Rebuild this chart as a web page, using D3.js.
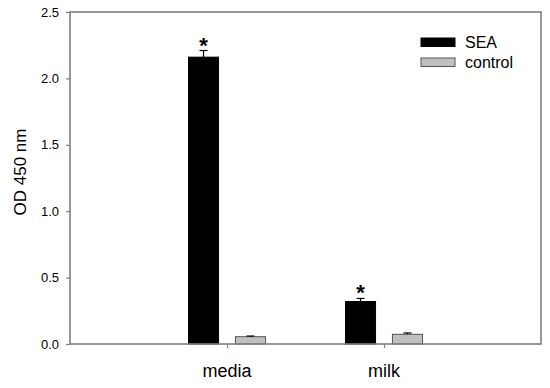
<!DOCTYPE html>
<html lang="en">
<head>
    <meta charset="UTF-8">
    <title>OD 450 nm: SEA vs control</title>
    <script src="https://d3js.org/d3.v7.min.js"></script>
    <style>
        body {
            margin: 0;
            background: white;
            font-family: Arial, "Liberation Sans", sans-serif;
        }
        .frame {
            fill: none;
            stroke: #7f7f7f;
            stroke-width: 1.6px;
        }
        .axis path {
            display: none;
        }
        .axis line {
            stroke: #7f7f7f;
            stroke-width: 1.2px;
        }
        .axis text {
            font-size: 13px;
            fill: black;
        }
        .cat-label {
            font-size: 18px;
            fill: black;
        }
        .legend text {
            font-size: 16px;
            fill: black;
        }
    </style>
</head>
<body>
    <svg width="550" height="388"></svg>
    <script>
        const categories = ["media", "milk"];
        const seriesNames = ["SEA", "control"];
        const seaValues = [2.16, 0.32];
        const seaErrors = [0.05, 0.023];
        const controlValues = [0.055, 0.073];
        const controlErrors = [0.005, 0.01];
        const significant = [true, true];
        const yTicks = [0, 0.5, 1.0, 1.5, 2.0, 2.5];

        const colors = { SEA: "#000000", control: "#c0c0c0" };
        const strokes = { SEA: "#000000", control: "#555555" };

        const svg = d3.select("svg"),
            margin = { top: 12, right: 9, bottom: 44, left: 70 },
            width = +svg.attr("width") - margin.left - margin.right,
            height = +svg.attr("height") - margin.top - margin.bottom;

        const g = svg.append("g")
            .attr("transform", `translate(${margin.left},${margin.top})`);

        const rows = [];
        categories.forEach((c, i) => {
            rows.push({ cat: c, series: "SEA", value: seaValues[i], err: seaErrors[i], star: significant[i] });
            rows.push({ cat: c, series: "control", value: controlValues[i], err: controlErrors[i], star: false });
        });

        const x = d3.scalePoint()
            .domain(categories)
            .range([0, width])
            .padding(1);

        const groupWidth = 77;
        const xSub = d3.scaleBand()
            .domain(seriesNames)
            .range([-groupWidth / 2, groupWidth / 2])
            .paddingInner(0.36);

        const y = d3.scaleLinear()
            .domain([0, 2.5])
            .range([height, 0]);

        // y axis ticks
        g.append("g")
            .attr("class", "axis")
            .call(d3.axisLeft(y)
                .tickValues(yTicks)
                .tickFormat(d3.format(".1f"))
                .tickSize(4)
                .tickPadding(7));

        // x axis ticks
        g.append("g")
            .attr("class", "axis")
            .attr("transform", `translate(0,${height})`)
            .call(d3.axisBottom(x).tickSize(4).tickFormat(""));

        g.selectAll(".cat-label")
            .data(categories)
            .enter()
            .append("text")
            .attr("class", "cat-label")
            .attr("x", d => x(d))
            .attr("y", height + 33)
            .attr("text-anchor", "middle")
            .text(d => d);

        // bars
        g.selectAll(".bar")
            .data(rows)
            .enter()
            .append("rect")
            .attr("class", "bar")
            .attr("x", d => x(d.cat) + xSub(d.series))
            .attr("width", xSub.bandwidth())
            .attr("y", d => y(d.value))
            .attr("height", d => y(0) - y(d.value))
            .attr("fill", d => colors[d.series])
            .attr("stroke", d => strokes[d.series])
            .attr("stroke-width", 1);

        // error bars (upper only)
        const cap = 4;
        const errG = g.selectAll(".err")
            .data(rows)
            .enter()
            .append("g")
            .attr("class", "err")
            .attr("transform", d => `translate(${x(d.cat) + xSub(d.series) + xSub.bandwidth() / 2},0)`);

        errG.append("line")
            .attr("x1", 0).attr("x2", 0)
            .attr("y1", d => y(d.value))
            .attr("y2", d => y(d.value + d.err))
            .attr("stroke", "black")
            .attr("stroke-width", 1.2);

        errG.append("line")
            .attr("x1", -cap).attr("x2", cap)
            .attr("y1", d => y(d.value + d.err))
            .attr("y2", d => y(d.value + d.err))
            .attr("stroke", "black")
            .attr("stroke-width", 1.2);

        // significance stars
        g.selectAll(".star")
            .data(rows.filter(d => d.star))
            .enter()
            .append("text")
            .attr("class", "star")
            .attr("x", d => x(d.cat) + xSub(d.series) + xSub.bandwidth() / 2)
            .attr("y", d => y(d.value + d.err) + 2)
            .attr("text-anchor", "middle")
            .attr("font-size", "22px")
            .attr("font-weight", "bold")
            .text("*");

        // frame
        g.append("rect")
            .attr("class", "frame")
            .attr("x", 0)
            .attr("y", 0)
            .attr("width", width)
            .attr("height", height);

        // y label
        svg.append("text")
            .attr("transform", `translate(26,${margin.top + height / 2 - 6}) rotate(-90)`)
            .attr("text-anchor", "middle")
            .attr("font-size", "17px")
            .text("OD 450 nm");

        // legend
        const legend = g.append("g")
            .attr("class", "legend")
            .attr("transform", `translate(${width - 120},26)`);

        const item = legend.selectAll(".item")
            .data(seriesNames)
            .enter()
            .append("g")
            .attr("transform", (d, i) => `translate(0,${i * 20})`);

        item.append("rect")
            .attr("width", 34)
            .attr("height", 8.5)
            .attr("fill", d => colors[d])
            .attr("stroke", d => strokes[d])
            .attr("stroke-width", 1);

        item.append("text")
            .attr("x", 44)
            .attr("y", 10)
            .text(d => d);
    </script>
</body>
</html>
